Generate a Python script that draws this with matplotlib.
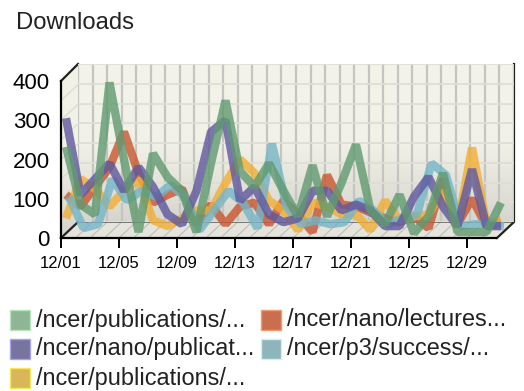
import matplotlib
matplotlib.use("Agg")
import matplotlib.pyplot as plt
import numpy as np
from matplotlib.patches import Polygon, Rectangle
from matplotlib.transforms import offset_copy

plt.rcParams["font.family"] = ["Liberation Sans", "DejaVu Sans"]

W, H = 524, 391
DPI = 100

days = [f"12/{d:02d}" for d in range(1, 32)]
y_ticks = [0, 100, 200, 300, 400]

green = [222, 75, 50, 386, 190, 5, 205, 145, 110, 5, 180, 340, 160, 120, 180, 110,
         45, 175, 45, 130, 228, 60, 25, 100, 2, 45, 155, 5, 5, 5, 80]
purple = [295, 100, 140, 180, 110, 170, 120, 50, 25, 110, 260, 290, 85, 120, 50, 30,
          40, 110, 110, 60, 75, 60, 20, 20, 95, 145, 70, 20, 165, 20, 20]
red = [100, 70, 120, 170, 260, 155, 80, 100, 115, 25, 75, 25, 70, 80, 25, 85,
       50, 5, 150, 75, 70, 55, 40, 30, 45, 15, 140, 25, 90, 20, 30]
yellow = [40, 140, 115, 70, 110, 140, 35, 20, 40, 60, 60, 130, 190, 155, 85, 60,
          10, 80, 70, 50, 50, 10, 85, 35, 45, 50, 110, 20, 220, 25, 35]
lightblue = [95, 15, 25, 140, 85, 110, 95, 125, 95, 10, 60, 110, 80, 15, 230, 70,
             25, 35, 25, 30, 85, 60, 25, 40, 50, 180, 150, 20, 25, 25, 20]

legend_labels = ["/ncer/publications/...", "/ncer/nano/lectures...", "/ncer/nano/publicat...",
                 "/ncer/p3/success/...", "/ncer/publications/..."]


def frac_box(x0, y0, x1, y1):
    # pixel box, y from the top, to figure fractions
    return [x0 / W, 1 - y1 / H, (x1 - x0) / W, (y1 - y0) / H]


fig = plt.figure(figsize=(W / DPI, H / DPI), dpi=DPI, facecolor="white")

# chrome in pixel coordinates
bg = fig.add_axes([0, 0, 1, 1], zorder=0)
bg.set_xlim(0, W)
bg.set_ylim(H, 0)
bg.axis("off")

grad = np.linspace(0, 1, 100).reshape(-1, 1)
side = bg.imshow(grad, extent=(61, 78, 238, 64), aspect="auto", cmap=matplotlib.colors.LinearSegmentedColormap.from_list(
    "side", ["#f1f1e6", "#f1f1e6", "#d4d4cc"]), zorder=1)
side_poly = Polygon([(61, 81), (78, 64), (78, 222), (61, 238)], closed=True, transform=bg.transData, fc="none", ec="none")
bg.add_patch(side_poly)
side.set_clip_path(side_poly)
bg.set_xlim(0, W)
bg.set_ylim(H, 0)

bg.add_patch(Polygon([(61, 238), (78, 222), (514, 222), (497, 238)], closed=True, fc="#e4e4dc", ec="none", zorder=1))
for i in range(31):
    x0 = 61 + i * 14.5
    bg.plot([x0, x0 + 17], [238, 222], color="#bdbdb6", lw=0.8, zorder=2)
for v in range(0, 401, 50):
    off = v * 157 / 400
    bg.plot([61, 78], [238 - off, 222 - off], color="#dcdcd4", lw=1, zorder=2)

# back wall
wall = fig.add_axes(frac_box(78, 64, 514, 222), zorder=1)
wall.patch.set_alpha(0)
wall.set_xlim(0, 30)
wall.set_ylim(0, 400)
wall.imshow(grad, extent=(0, 30, 0, 400), aspect="auto", zorder=0, cmap=matplotlib.colors.LinearSegmentedColormap.from_list(
    "wall", ["#f3f3e9", "#f1f1e7", "#d6d6ce"]))
wall.set_xticks(range(31))
wall.set_yticks(range(0, 401, 50))
wall.grid(axis="x", color="#c4c4c0", lw=1.6)
wall.grid(axis="y", color="#dddfd6", lw=1.3)
wall.set_axisbelow(False)
wall.tick_params(length=0, labelbottom=False, labelleft=False)
for s in wall.spines.values():
    s.set_visible(False)

# front plane, holds data
ax = fig.add_axes(frac_box(61, 81, 496, 238), zorder=2)
ax.patch.set_alpha(0)
ax.set_xlim(0, 30)
ax.set_ylim(0, 400)

x = np.arange(len(days))
styles = [
    (red, "#c9552f", 5),
    (yellow, "#f3ae35", 5),
    (lightblue, "#74b5c6", 8),
    (purple, "#5f579e", 5),
    (green, "#609a70", 5),
]
for values, color, dx in styles:
    tr = offset_copy(ax.transData, fig=fig, x=dx, y=4, units="dots")
    ax.plot(x, values, color=color, lw=6, alpha=0.8, transform=tr, clip_on=False,
            solid_joinstyle="bevel", solid_capstyle="butt")

ax.set_xticks(x[::4])
ax.set_xticklabels(days[::4], fontsize=12)
ax.set_yticks(y_ticks)
ax.set_yticklabels(y_ticks, fontsize=16)
ax.tick_params(axis="x", length=7, width=1.4, color="black", pad=6)
ax.tick_params(axis="y", length=0, pad=8)
for name in ["top", "right"]:
    ax.spines[name].set_visible(False)
ax.spines["left"].set_linewidth(1.6)
ax.spines["bottom"].set_linewidth(1.6)

# black edges of the box
bg.plot([61, 78], [81, 64], color="#222222", lw=1.6, zorder=5)
bg.plot([61, 78], [238, 222], color="#222222", lw=1.6, zorder=5)
bg.plot([78, 514], [222, 222], color="#666666", lw=1.2, zorder=5)
bg.plot([514, 514, 497], [64, 222, 238], color="#222222", lw=1.6, zorder=5)

fig.text(16 / W, 1 - 23 / H, "Downloads", fontsize=17.2, va="center", ha="left", color="#222222")

# legend
legend_colors = ["#8fb596", "#c96f50", "#77749f", "#8fb5bc", "#d9b65a"]
legend_edges = ["#b4e6b8", "#f59a70", "#a8a4ea", "#cdf2f2", "#f6e85c"]
legend_xy = [(10, 320), (261, 320), (10, 349), (261, 349), (10, 378)]
for label, fc, ec, (lx, ly) in zip(legend_labels, legend_colors, legend_edges, legend_xy):
    bg.add_patch(Rectangle((lx, ly - 10), 20, 20, fc=fc, ec=ec, lw=1))
    fig.text((lx + 26) / W, 1 - ly / H, label, fontsize=16.9, va="center", ha="left", color="#222222")

fig.savefig("out.png", dpi=DPI)
